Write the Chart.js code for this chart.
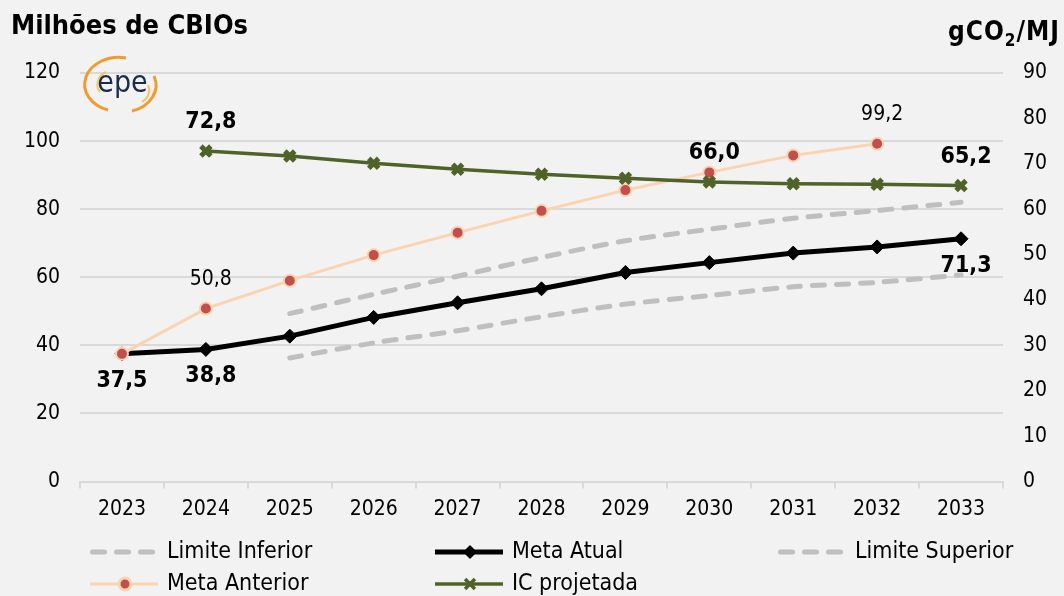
<!DOCTYPE html>
<html lang="pt-br">

<head>
    <meta charset="UTF-8">
    <title>Metas de CBIOs e intensidade de carbono</title>
    <script src="https://cdn.jsdelivr.net/npm/chart.js"></script>
    <style>
        body {
            margin: 0;
            background: #f2f2f2;
        }

        .quadro {
            position: relative;
            width: 1064px;
            height: 596px;
            font-family: "DejaVu Sans Condensed", "DejaVu Sans", sans-serif;
        }

        #titulo-esq {
            position: absolute;
            left: 11px;
            top: 9px;
            font-size: 27px;
            font-weight: bold;
        }

        #titulo-dir {
            position: absolute;
            right: 4px;
            top: 16px;
            font-size: 26px;
            font-weight: bold;
            letter-spacing: 1px;
        }

        #titulo-dir sub {
            font-size: 17px;
        }

        #logo {
            position: absolute;
            left: 80px;
            top: 52px;
        }

        canvas {
            position: absolute;
            left: 0;
            top: 0;
        }
    </style>
</head>

<body>
    <div class="quadro">
        <canvas id="grafico" width="1064" height="596"></canvas>
        <div id="titulo-esq">Milhões de CBIOs</div>
        <div id="titulo-dir">gCO<sub>2</sub>/MJ</div>
        <svg id="logo" width="90" height="64">
            <path d="M 46 6 A 34 27 0 0 0 28 58" fill="none" stroke="#f39a2e" stroke-width="3" />
            <path d="M 74 24 A 34 27 0 0 1 52 59" fill="none" stroke="#f39a2e" stroke-width="3" />
            <path d="M 26 20 A 16 14 0 0 0 20 40" fill="none" stroke="#f8c460" stroke-width="2" />
            <path d="M 68 33 A 16 14 0 0 1 62 50" fill="none" stroke="#f8c460" stroke-width="2" />
            <text x="42.5" y="40" text-anchor="middle" font-size="30" fill="#1c2b4c"
                font-family="DejaVu Sans Condensed, DejaVu Sans, sans-serif">epe</text>
        </svg>
    </div>

    <script>
        const FONTE = '"DejaVu Sans Condensed", "DejaVu Sans", sans-serif';

        // dados
        const anos = ['2023', '2024', '2025', '2026', '2027', '2028', '2029', '2030', '2031', '2032', '2033'];
        const limiteInferior = [null, null, 36.3, 40.7, 44.3, 48.4, 52.1, 54.6, 57.2, 58.5, 60.7];
        const metaAtual = [37.5, 38.8, 42.7, 48.2, 52.5, 56.6, 61.4, 64.3, 67.1, 68.9, 71.3];
        const limiteSuperior = [null, null, 49.3, 55.0, 60.3, 65.8, 70.7, 74.1, 77.3, 79.6, 82.0];
        const metaAnterior = [37.5, 50.8, 59.0, 66.5, 73.1, 79.5, 85.6, 90.8, 95.8, 99.2, null];
        const icProjetada = [null, 72.8, 71.7, 70.1, 68.8, 67.7, 66.8, 66.0, 65.6, 65.5, 65.2];

        // rotulos mostrados (dataset, indice)
        const rotulos = [
            { ds: 1, i: 0, pos: 'baixo', negrito: true },
            { ds: 1, i: 1, pos: 'baixo', negrito: true },
            { ds: 1, i: 10, pos: 'baixo', negrito: true },
            { ds: 3, i: 1, pos: 'cima', negrito: false },
            { ds: 3, i: 9, pos: 'cima', negrito: false },
            { ds: 4, i: 1, pos: 'cima', negrito: true },
            { ds: 4, i: 7, pos: 'cima', negrito: true },
            { ds: 4, i: 10, pos: 'cima', negrito: true }
        ];

        Chart.defaults.font.family = FONTE;
        Chart.defaults.color = '#000';

        const cinza = '#bfbfbf';

        const rotulosPlugin = {
            id: 'rotulos',
            afterDatasetsDraw(chart) {
                const ctx = chart.ctx;
                ctx.save();
                ctx.fillStyle = '#000';
                ctx.textAlign = 'center';
                ctx.textBaseline = 'middle';
                rotulos.forEach((r) => {
                    const ponto = chart.getDatasetMeta(r.ds).data[r.i];
                    const valor = chart.data.datasets[r.ds].data[r.i];
                    const texto = valor.toFixed(1).replace('.', ',');
                    ctx.font = (r.negrito ? 'bold 23px ' : '21px ') + FONTE;
                    const dx = r.i === 0 ? 0 : 5;
                    const dy = r.pos === 'cima' ? -29 : 27;
                    ctx.fillText(texto, ponto.x + dx, ponto.y + dy);
                });
                ctx.restore();
            }
        };

        const legendaPlugin = {
            id: 'legenda',
            afterDraw(chart) {
                const ctx = chart.ctx;
                const colunas = [90, 435, 778];
                const linhas = [552, 584];
                chart.data.datasets.forEach((ds, k) => {
                    const x = colunas[k % 3];
                    const y = linhas[Math.floor(k / 3)];
                    ctx.save();
                    ctx.strokeStyle = ds.borderColor;
                    ctx.lineWidth = ds.borderWidth;
                    ctx.setLineDash(ds.borderDash || []);
                    ctx.lineCap = ds.borderCapStyle || 'butt';
                    ctx.beginPath();
                    if (ds.borderDash) {
                        ctx.moveTo(x + 2.5, y);
                        ctx.lineTo(x + 62.5, y);
                    } else {
                        ctx.moveTo(x, y);
                        ctx.lineTo(x + 68, y);
                    }
                    ctx.stroke();
                    ctx.setLineDash([]);
                    if (ds.pointRadius > 0) {
                        ctx.fillStyle = ds.pointBackgroundColor;
                        ctx.strokeStyle = ds.pointBorderColor;
                        Chart.helpers.drawPoint(ctx, {
                            pointStyle: ds.pointStyle,
                            radius: ds.pointRadius,
                            borderWidth: ds.pointBorderWidth - 1,
                            rotation: 0
                        }, x + 35, y);
                    }
                    ctx.fillStyle = '#000';
                    ctx.font = '23px ' + FONTE;
                    ctx.textAlign = 'left';
                    ctx.textBaseline = 'middle';
                    ctx.fillText(ds.label, x + 77, y);
                    ctx.restore();
                });
            }
        };

        new Chart(document.getElementById('grafico'), {
            type: 'line',
            data: {
                labels: anos,
                datasets: [
                    {
                        label: 'Limite Inferior',
                        data: limiteInferior,
                        yAxisID: 'y',
                        borderColor: cinza,
                        borderWidth: 5,
                        borderDash: [12, 12],
                        borderCapStyle: 'round',
                        pointRadius: 0,
                        tension: 0.3,
                        order: 5
                    },
                    {
                        label: 'Meta Atual',
                        data: metaAtual,
                        yAxisID: 'y',
                        borderColor: '#000',
                        borderWidth: 5,
                        pointStyle: 'rectRot',
                        pointRadius: 7,
                        pointBackgroundColor: '#000',
                        pointBorderColor: '#000',
                        pointBorderWidth: 1,
                        order: 3
                    },
                    {
                        label: 'Limite Superior',
                        data: limiteSuperior,
                        yAxisID: 'y',
                        borderColor: cinza,
                        borderWidth: 5,
                        borderDash: [12, 12],
                        borderCapStyle: 'round',
                        pointRadius: 0,
                        tension: 0.3,
                        order: 4
                    },
                    {
                        label: 'Meta Anterior',
                        data: metaAnterior,
                        yAxisID: 'y',
                        borderColor: '#fcd3b0',
                        borderWidth: 3,
                        pointStyle: 'circle',
                        pointRadius: 6,
                        pointBackgroundColor: '#c0504d',
                        pointBorderColor: '#fcd3b0',
                        pointBorderWidth: 2,
                        order: 2
                    },
                    {
                        label: 'IC projetada',
                        data: icProjetada,
                        yAxisID: 'y1',
                        borderColor: '#4f6228',
                        borderWidth: 3.5,
                        pointStyle: 'crossRot',
                        pointRadius: 7,
                        pointBackgroundColor: '#4f6228',
                        pointBorderColor: '#4f6228',
                        pointBorderWidth: 5,
                        order: 1
                    }
                ]
            },
            options: {
                responsive: false,
                animation: false,
                layout: {
                    padding: { top: 73, right: 0, bottom: 74.5, left: 0 }
                },
                plugins: {
                    legend: { display: false },
                    tooltip: { enabled: false }
                },
                scales: {
                    x: {
                        offset: true,
                        grid: {
                            offset: true,
                            drawOnChartArea: false,
                            drawTicks: true,
                            tickLength: 7,
                            color: '#d9d9d9',
                            lineWidth: 2
                        },
                        border: { color: '#d9d9d9', width: 2 },
                        ticks: { font: { size: 21 }, padding: 8, maxRotation: 0 },
                        afterFit: (s) => { s.height = 40; }
                    },
                    y: {
                        position: 'left',
                        min: 0,
                        max: 120,
                        ticks: { stepSize: 20, font: { size: 21 }, padding: 20 },
                        grid: { color: '#d9d9d9', lineWidth: 2, drawTicks: false },
                        border: { display: false },
                        afterFit: (s) => { s.width = 80; }
                    },
                    y1: {
                        position: 'right',
                        min: 0,
                        max: 90,
                        ticks: { stepSize: 10, font: { size: 21 }, padding: 20 },
                        grid: { drawOnChartArea: false, drawTicks: false },
                        border: { display: false },
                        afterFit: (s) => { s.width = 61; }
                    }
                }
            },
            plugins: [rotulosPlugin, legendaPlugin]
        });
    </script>
</body>

</html>
